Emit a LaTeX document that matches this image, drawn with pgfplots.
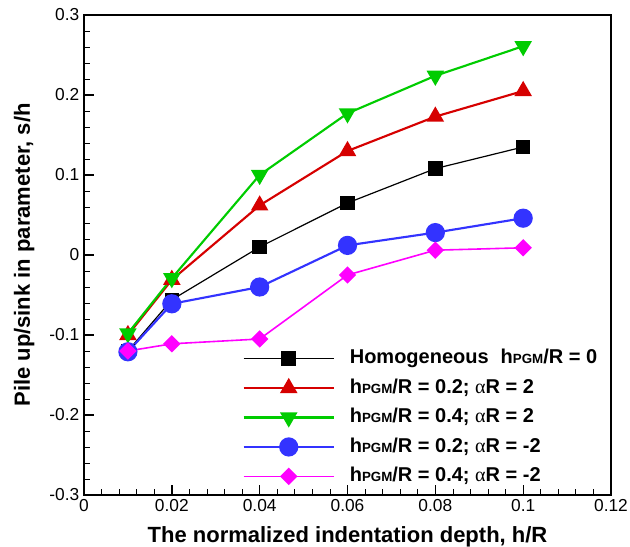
\documentclass[border=0pt]{standalone}
\usepackage{fontspec}
\setmainfont{Liberation Sans}
\newfontfamily\greekfont{Liberation Serif}
\usepackage{pgfplots}
\pgfplotsset{compat=1.18}
\usetikzlibrary{calc}

\definecolor{cred}{RGB}{214,0,0}
\definecolor{cgreen}{RGB}{0,204,0}
\definecolor{cblue}{RGB}{51,51,255}
\definecolor{cmag}{RGB}{255,0,255}

\newcommand{\hpgm}{h{\fontsize{10}{10}\selectfont PGM}}
\newcommand{\al}{{\greekfont\mdseries α}}

\begin{document}
\begin{tikzpicture}
\begin{axis}[
  scale only axis,
  width=395.25pt, height=360pt,
  xmin=0, xmax=0.12, ymin=-0.3, ymax=0.3,
  xtick={0,0.02,...,0.12}, ytick={-0.3,-0.2,...,0.3},
  minor x tick num=4, minor y tick num=4,
  xtick pos=bottom, ytick pos=left,
  tick align=inside,
  major tick length=7.5pt, minor tick length=4.5pt,
  every major tick/.append style={line width=1pt, black},
  every minor tick/.append style={line width=0.6pt, black},
  axis line style={line width=1.3pt},
  /pgf/number format/fixed,
  /pgf/number format/precision=2,
  /pgf/number format/assume math mode=true,
  tick label style={font=\fontsize{13}{15}\selectfont},
  xlabel={The normalized indentation depth, h/R},
  ylabel={Pile up/sink in parameter, s/h},
  xlabel style={at={(axis description cs:0.5,0)}, anchor=base, yshift=-36pt,
    font=\fontsize{16.5}{19}\selectfont\bfseries},
  ylabel style={at={(axis description cs:-0.1025,0.5)}, anchor=base,
    font=\fontsize{16.5}{19}\selectfont\bfseries},
  legend image code/.code={
    \draw[mark repeat=2, mark phase=2, #1] plot coordinates {(0pt,0pt) (33.75pt,0pt) (67.5pt,0pt)};
  },
  legend cell align=left,
  legend style={draw=none, fill=none, at={(axis description cs:0.293,0.1615)}, anchor=west,
    font=\fontsize{15}{17}\selectfont\bfseries,
    nodes={inner sep=0pt, text height=11pt, text depth=3pt},
    row sep=8.1pt, column sep=11.25pt},
]
\addplot[black, line width=0.9pt, mark=square*, mark size=5pt, mark options={solid, fill=black}]
  coordinates {(0.01,-0.120) (0.02,-0.056) (0.04,0.010) (0.06,0.065) (0.08,0.108) (0.10,0.135)};
\addlegendentry{Homogeneous\hspace{0.6em}\hpgm/R = 0}
\addplot[cred, line width=1.6pt, mark=triangle*, mark size=6pt, mark options={solid, fill=cred}]
  coordinates {(0.01,-0.100) (0.02,-0.031) (0.04,0.062) (0.06,0.130) (0.08,0.173) (0.10,0.205)};
\addlegendentry{\hpgm/R = 0.2; \al R = 2}
\addplot[cgreen, line width=1.6pt, mark=triangle*, mark size=6pt, mark options={solid, fill=cgreen, rotate=180}]
  coordinates {(0.01,-0.098) (0.02,-0.029) (0.04,0.100) (0.06,0.177) (0.08,0.224) (0.10,0.261)};
\addlegendentry{\hpgm/R = 0.4; \al R = 2}
\addplot[cblue, line width=1.6pt, mark=*, mark size=6.4pt, mark options={solid, fill=cblue}]
  coordinates {(0.01,-0.121) (0.02,-0.061) (0.04,-0.040) (0.06,0.012) (0.08,0.028) (0.10,0.046)};
\addlegendentry{\hpgm/R = 0.2; \al R = -2}
\addplot[cmag, line width=1.2pt, mark=square*, mark size=4pt, mark options={solid, fill=cmag, rotate=45}]
  coordinates {(0.01,-0.120) (0.02,-0.111) (0.04,-0.105) (0.06,-0.025) (0.08,0.006) (0.10,0.009)};
\addlegendentry{\hpgm/R = 0.4; \al R = -2}
\end{axis}
\pgfresetboundingbox
\path[use as bounding box] ($(current axis.south west)+(-63pt,-39pt)$) rectangle ($(current axis.north east)+(14.25pt,11.25pt)$);
\end{tikzpicture}
\end{document}
